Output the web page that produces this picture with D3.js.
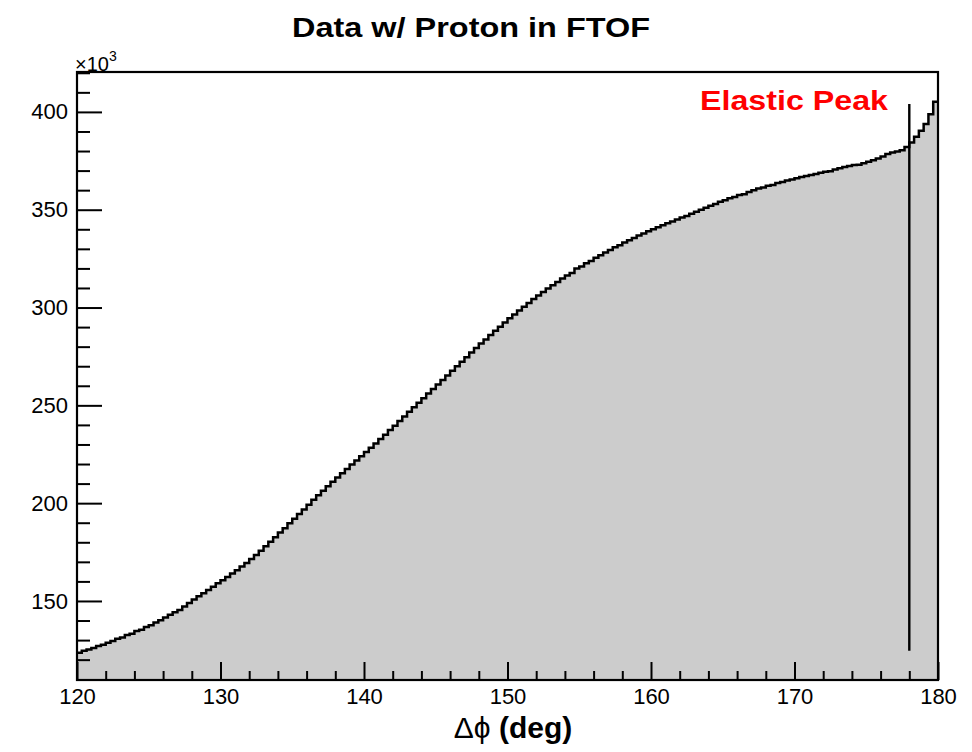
<!DOCTYPE html>
<html>
<head>
<meta charset="utf-8">
<script src="https://cdn.jsdelivr.net/npm/d3@7"></script>
<style>
  body { margin: 0; background: #fff; }
  text { font-family: "Liberation Sans", Arial, sans-serif; }
</style>
</head>
<body>
<div id="chart-area"></div>
<script>
// histogram: 180 bins from 120 to 180 deg (counts in units of 10^3)
var xRange = [120, 180];
var binCounts = [
    123.5, 124.5, 125.2,  126.0, 127.0, 127.6,  128.7, 129.5, 130.7,  131.3, 132.6, 133.3,
    134.6, 135.3, 136.7,  137.6, 139.0, 140.2,  141.5, 142.9, 144.2,  145.4, 147.2, 149.0,
    150.7, 152.4, 154.0,  155.6, 157.3, 159.0,  160.6, 162.3, 164.0,  165.7, 167.6, 169.4,
    171.4, 173.5, 175.7,  178.0, 180.3, 182.6,  185.0, 187.2, 189.7,  192.0, 194.4, 196.8,
    199.2, 201.7, 204.0,  206.3, 208.6, 210.9,  213.1, 215.3, 217.5,  219.7, 221.8, 224.0,
    226.1, 228.3, 230.5,  232.8, 235.0, 237.4,  239.6, 242.0, 244.3,  246.7, 249.0, 251.3,
    253.6, 256.0, 258.3,  260.7, 263.0, 265.3,  267.7, 270.0, 272.3,  274.6, 277.0, 279.3,
    281.6, 283.7, 285.9,  288.1, 290.2, 292.4,  294.5, 296.4, 298.5,  300.4, 302.3, 304.3,
    306.1, 307.9, 309.7,  311.4, 313.0, 314.8,  316.4, 317.6, 319.9,  321.0, 322.6, 323.8,
    325.4, 326.7, 328.1,  329.4, 330.8, 331.9,  333.2, 334.4, 335.6,  336.8, 337.9, 339.0,
    340.0, 341.1, 342.1,  343.1, 344.0, 345.0,  346.0, 346.8, 347.9,  349.0, 350.0, 351.0,
    352.0, 352.9, 354.1,  354.9, 355.9, 356.5,  357.5, 357.9, 359.1,  359.9, 360.8, 361.4,
    362.2, 362.6, 363.6,  364.2, 365.0, 365.5,  366.1, 366.7, 367.3,  367.8, 368.3, 368.9,
    369.4, 369.7, 370.5,  371.2, 371.8, 372.3,  372.8, 373.0, 373.8,  374.5, 375.3, 376.2,
    377.2, 378.5, 379.2,  379.8, 380.4, 382.0,  384.4, 387.3, 390.4,  393.8, 398.8, 405.2
];
var yRange = [109.6, 420.4];
var xMajorTicks = [120, 130, 140, 150, 160, 170, 180];
var yMajorTicks = [150, 200, 250, 300, 350, 400];
// elastic peak marker: x position, y from, y to
var peakLine = [178, 124.5, 404];

var margin = { left: 77, right: 34, top: 72, bottom: 72 };
var width = 972 - margin.left - margin.right,
    height = 752 - margin.top - margin.bottom;

var svg = d3.select("#chart-area").append("svg")
    .attr("width", 972)
    .attr("height", 752);

var g = svg.append("g").attr("transform", "translate(" + margin.left + ", " + margin.top + ")");

var x = d3.scaleLinear().domain(xRange).range([0, width]);
var y = d3.scaleLinear().domain(yRange).range([height, 0]);

var binWidth = (xRange[1] - xRange[0]) / binCounts.length;
var steps = [];
binCounts.forEach((v, i) => {
    steps.push([xRange[0] + i * binWidth, v]);
    steps.push([xRange[0] + (i + 1) * binWidth, v]);
});

// filled histogram
var area = d3.area()
    .x((d) => { return x(d[0]); })
    .y0(height)
    .y1((d) => { return y(d[1]); });
g.append("path")
    .datum(steps)
    .attr("fill", "#cccccc")
    .attr("d", area);

var line = d3.line()
    .x((d) => { return x(d[0]); })
    .y((d) => { return y(d[1]); });
g.append("path")
    .datum(steps)
    .attr("fill", "none")
    .attr("stroke", "black")
    .attr("stroke-width", 2.5)
    .attr("d", line);

// X axis (ticks inside)
var xMinor = d3.range(xRange[0], xRange[1] + 0.01, 2).filter((t) => { return t % 10 != 0; });
g.append("g")
    .attr("transform", "translate(0, " + height + ")")
    .call(d3.axisBottom(x).tickValues(xMinor).tickSize(-9).tickFormat(""))
    .call((a) => { a.select(".domain").remove(); a.selectAll("line").attr("stroke-width", 2); });
var xAxis = g.append("g")
    .attr("transform", "translate(0, " + height + ")")
    .call(d3.axisBottom(x).tickValues(xMajorTicks).tickSize(-18).tickPadding(8).tickFormat(d3.format("d")));
xAxis.select(".domain").remove();
xAxis.selectAll("line").attr("stroke-width", 2);
xAxis.selectAll("text").attr("font-size", "22px").attr("font-family", "Liberation Sans, Arial, sans-serif").attr("fill", "black");

// Y axis (ticks inside)
var yMinor = d3.range(120, 421, 10).filter((t) => { return t % 50 != 0; });
g.append("g")
    .call(d3.axisLeft(y).tickValues(yMinor).tickSize(-13).tickFormat(""))
    .call((a) => { a.select(".domain").remove(); a.selectAll("line").attr("stroke-width", 2); });
var yAxis = g.append("g")
    .call(d3.axisLeft(y).tickValues(yMajorTicks).tickSize(-25).tickPadding(9).tickFormat(d3.format("d")));
yAxis.select(".domain").remove();
yAxis.selectAll("line").attr("stroke-width", 2);
yAxis.selectAll("text").attr("font-size", "22px").attr("font-family", "Liberation Sans, Arial, sans-serif").attr("fill", "black");

// frame
g.append("rect")
    .attr("width", width)
    .attr("height", height)
    .attr("fill", "none")
    .attr("stroke", "black")
    .attr("stroke-width", 2.2);

// elastic peak line
g.append("line")
    .attr("x1", x(peakLine[0]))
    .attr("x2", x(peakLine[0]))
    .attr("y1", y(peakLine[1]))
    .attr("y2", y(peakLine[2]))
    .attr("stroke", "black")
    .attr("stroke-width", 2.4);

g.append("text")
    .attr("x", 623)
    .attr("y", 38)
    .attr("font-size", "28px")
    .attr("font-weight", "bold")
    .attr("fill", "#ff0000")
    .attr("textLength", 188)
    .attr("lengthAdjust", "spacingAndGlyphs")
    .text("Elastic Peak");

// x10^3 label
var expo = g.append("text")
    .attr("x", -2)
    .attr("y", -1)
    .attr("font-size", "20px")
    .attr("fill", "black");
expo.append("tspan").text("\u00d710");
expo.append("tspan").attr("dy", -10).attr("font-size", "14px").text("3");

// title
svg.append("text")
    .attr("x", 471)
    .attr("y", 37)
    .attr("text-anchor", "middle")
    .attr("font-size", "28px")
    .attr("font-weight", "bold")
    .attr("textLength", 358)
    .attr("lengthAdjust", "spacingAndGlyphs")
    .text("Data w/ Proton in FTOF");

// X label
var xLabel = svg.append("text")
    .attr("x", 513)
    .attr("y", 738)
    .attr("text-anchor", "middle")
    .attr("font-size", "30px")
    .attr("fill", "black");
xLabel.append("tspan").text("\u0394\u03d5");
xLabel.append("tspan").attr("font-weight", "bold").text(" (deg)");
</script>
</body>
</html>
